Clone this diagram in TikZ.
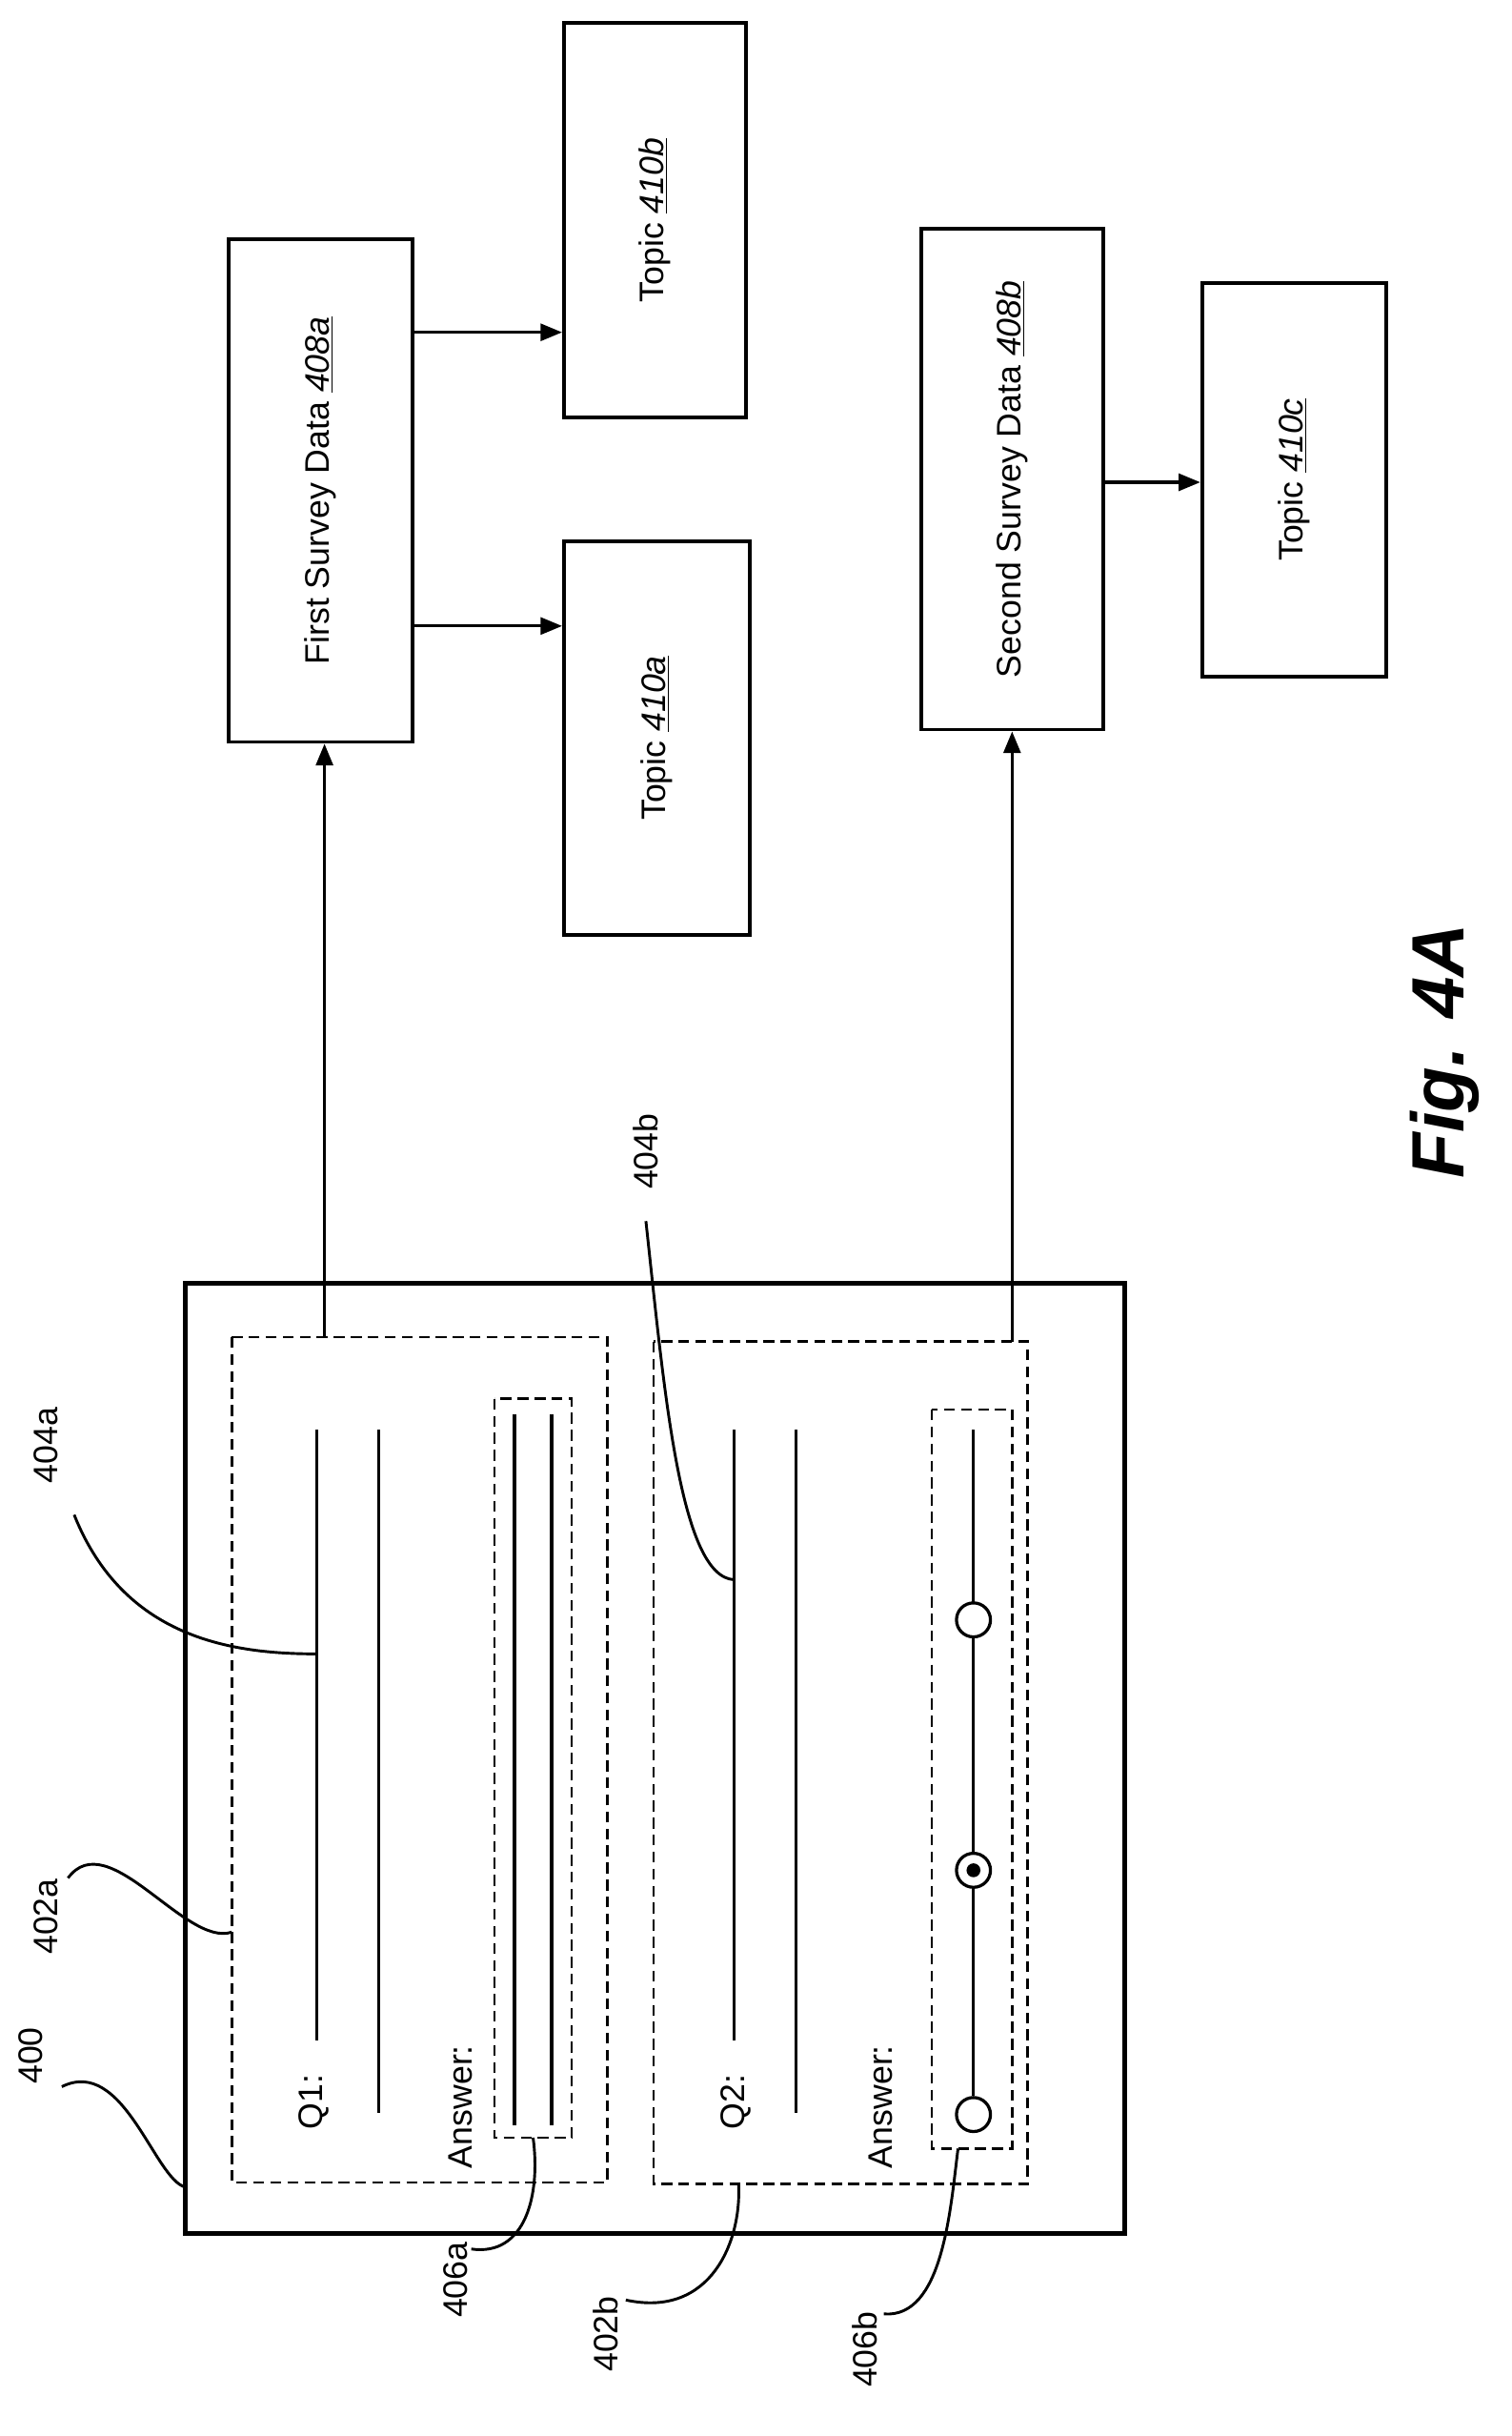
\documentclass[tikz,border=0pt]{standalone}
\usepackage{fontspec}
\setmainfont{Liberation Sans}
\usetikzlibrary{arrows.meta}
\begin{document}
\begin{tikzpicture}[x=1pt,y=-1pt,
  txt/.style={rotate=90,font=\fontsize{22}{24}\selectfont,inner sep=0pt},
  box/.style={draw,line width=2.4pt},
  dbox/.style={draw,line width=1.6pt,dash pattern=on 7pt off 4pt},
  ln/.style={line width=2pt},
  arr/.style={line width=2pt,-{Triangle[length=14pt,width=11pt]}},
  lead/.style={line width=1.8pt}]
\useasboundingbox (0,0) rectangle (978,1576);
% outer
\draw[line width=3.2pt] (120,830) rectangle (728,1445);
\draw[dbox] (150,865) rectangle (393,1412);
\draw[dbox] (423,868) rectangle (665,1413);
% Q1
\node[txt] (q1) at (203,1360) {Q1:};
\draw[ln] (205,925) -- (205,1320);
\draw[ln] (245,925) -- (245,1367);
\node[txt] (ans1) at (298,1363) {Answer:};
\draw[dbox] (320,905) rectangle (370,1383);
\draw[ln] (333,915) -- (333,1375);
\draw[ln] (357,915) -- (357,1375);
% Q2
\node[txt] (q2) at (476,1360) {Q2:};
\draw[ln] (475,925) -- (475,1320);
\draw[ln] (515,925) -- (515,1367);
\node[txt] (ans2) at (570,1363) {Answer:};
\draw[dbox] (603,912) rectangle (655,1390);
\draw[ln] (630,925) -- (630,1037) (630,1059) -- (630,1199) (630,1221) -- (630,1356);
\draw[ln] (630,1048) circle (11);
\draw[ln] (630,1210) circle (11);
\fill (630,1210) circle (4.5);
\draw[ln] (630,1368) circle (11);
% leaders
\node[txt] at (20,1330) {400};
\draw[lead] (40,1350) .. controls (80,1330) and (100,1410) .. (120,1415);
\node[txt] at (30,1240) {402a};
\draw[lead] (44,1215) .. controls (70,1180) and (120,1260) .. (150,1250);
\node[txt] at (30,935) {404a};
\draw[lead] (48,980) .. controls (80,1060) and (150,1070) .. (205,1070);
\node[txt] at (418,745) {404b};
\draw[lead] (418,790) .. controls (430,900) and (440,1020) .. (475,1022);
\node[txt] at (295,1475) {406a};
\draw[lead] (305,1455) .. controls (340,1460) and (350,1420) .. (345,1383);
\node[txt] at (392,1510) {402b};
\draw[lead] (405,1488) .. controls (460,1500) and (480,1450) .. (478,1413);
\node[txt] at (560,1520) {406b};
\draw[lead] (572,1497) .. controls (610,1500) and (615,1430) .. (620,1390);
% right boxes
\node[box,minimum width=119pt,minimum height=325pt] (s1) at (207.5,317.5) {};
\node[txt] at (s1) {First Survey Data \underline{\itshape 408a}};
\node[box,minimum width=120pt,minimum height=255pt] (t1) at (425,477.5) {};
\node[txt] at (t1) {Topic \underline{\itshape 410a}};
\node[box,minimum width=118pt,minimum height=255pt] (t2) at (424,142.5) {};
\node[txt] at (t2) {Topic \underline{\itshape 410b}};
\node[box,minimum width=118pt,minimum height=324pt] (s2) at (655,310) {};
\node[txt] at (s2) {Second Survey Data \underline{\itshape 408b}};
\node[box,minimum width=119pt,minimum height=255pt] (t3) at (837.5,310.5) {};
\node[txt] at (t3) {Topic \underline{\itshape 410c}};
\coordinate (a1) at (210,865);
\coordinate (a2) at (655,868);
\draw[arr] (a1) -- (s1.south -| a1);
\draw[arr] (s1.east |- 0,405) -- (t1.west |- 0,405);
\draw[arr] (s1.east |- 0,215) -- (t2.west |- 0,215);
\draw[arr] (a2) -- (s2.south -| a2);
\draw[arr] (s2.east |- 0,312) -- (t3.west |- 0,312);
\node[rotate=90,font=\fontsize{48}{50}\selectfont\bfseries\itshape] at (935,680) {Fig. 4A};
\end{tikzpicture}
\end{document}
